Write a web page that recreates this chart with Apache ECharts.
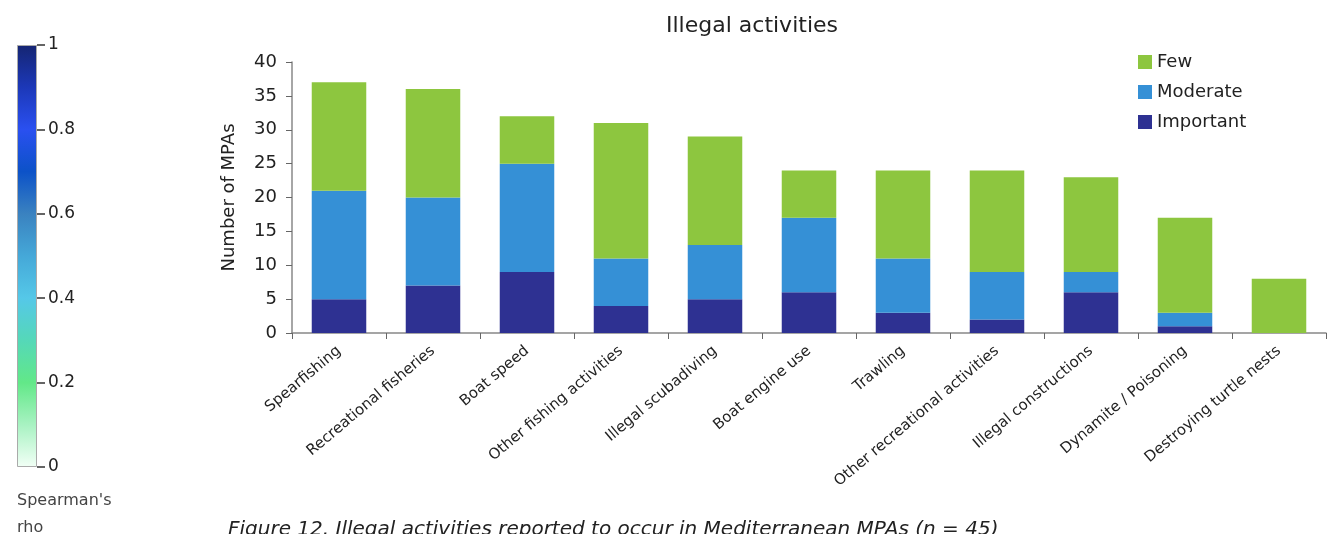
<!DOCTYPE html>
<html>
<head>
<meta charset="utf-8">
<script src="https://cdn.jsdelivr.net/npm/echarts@6/dist/echarts.min.js"></script>
<style>html,body{margin:0;padding:0;background:#fff}#c{width:1332px;height:534px}</style>
</head>
<body>
<div id="c"></div>
<script>
const categories = ['Spearfishing','Recreational fisheries','Boat speed','Other fishing activities','Illegal scubadiving','Boat engine use','Trawling','Other recreational activities','Illegal constructions','Dynamite / Poisoning','Destroying turtle nests'];
const important = [5, 7, 9, 4, 5, 6, 3, 2, 6, 1, 0];
const moderate  = [16, 13, 16, 7, 8, 11, 8, 7, 3, 2, 0];
const few       = [16, 16, 7, 20, 16, 7, 13, 15, 14, 14, 8];
const yTicks = [0, 5, 10, 15, 20, 25, 30, 35, 40];
const rhoTicks = [0, 0.2, 0.4, 0.6, 0.8, 1];
const rhoMax = [1];

const FONT = '"DejaVu Sans", "Liberation Sans", Arial, sans-serif';
const chart = echarts.init(document.getElementById('c'), null, {renderer:'canvas'});
chart.setOption({
  animation: false,
  textStyle: {fontFamily: FONT},
  title: [{
    text: 'Illegal activities', left: 747, top: 10, textAlign: 'center',
    textStyle: {fontSize: 22, fontWeight: 'normal', color: '#222', fontFamily: FONT}
  },{
    text: "Spearman's\nrho", left: 12, top: 482,
    textStyle: {fontSize: 16, fontWeight: 'normal', color: '#444', lineHeight: 27, fontFamily: FONT}
  },{
    text: 'Figure 12. Illegal activities reported to occur in Mediterranean MPAs (n = 45)', left: 223, top: 515,
    textStyle: {fontSize: 20, fontWeight: 'normal', fontStyle: 'italic', color: '#222', fontFamily: FONT}
  }],
  legend: {
    data: ['Few','Moderate','Important'], orient: 'vertical', left: 1133, top: 48,
    icon: 'rect', itemWidth: 14, itemHeight: 14, itemGap: 12,
    textStyle: {fontSize: 18, color: '#222', fontFamily: FONT}
  },
  grid: [
    {left: 292, right: 6, top: 62, bottom: 201, containLabel: false},
    {left: 17, width: 20, top: 45, bottom: 67, containLabel: false}
  ],
  xAxis: [{
    type: 'category', data: categories, gridIndex: 0,
    axisLine: {lineStyle: {color: '#888', width: 1.5}},
    axisTick: {show: true, alignWithLabel: false, length: 6, lineStyle: {color: '#666'}},
    axisLabel: {rotate: 40, fontSize: 15, color: '#222', margin: 16, interval: 0, fontFamily: FONT}
  },{
    type: 'category', data: ['rho'], gridIndex: 1, show: false
  }],
  yAxis: [{
    type: 'value', gridIndex: 0, min: 0, max: 40, interval: 5,
    name: 'Number of MPAs', nameLocation: 'middle', nameGap: 54, nameRotate: 90,
    nameTextStyle: {fontSize: 18, color: '#222', fontFamily: FONT},
    axisLine: {show: true, lineStyle: {color: '#888', width: 1.5}},
    axisTick: {show: true, length: 6, lineStyle: {color: '#666'}},
    axisLabel: {fontSize: 18, color: '#222', margin: 15, fontFamily: FONT},
    splitLine: {show: false}
  },{
    type: 'value', gridIndex: 1, min: 0, max: 1, interval: 0.2, position: 'right',
    axisLine: {show: false},
    axisTick: {show: true, inside: false, length: 8, lineStyle: {color: '#333', width: 1.5}},
    axisLabel: {fontSize: 17, color: '#222', margin: 11, fontFamily: FONT,
      formatter: v => (v === 0 || v === 1) ? String(v) : v.toFixed(1)},
    splitLine: {show: false}
  }],
  series: [
    {name: 'Important', type: 'bar', stack: 't', data: important, barCategoryGap: '42%', itemStyle: {color: '#2e3192'}},
    {name: 'Moderate', type: 'bar', stack: 't', data: moderate, itemStyle: {color: '#3590d6'}},
    {name: 'Few', type: 'bar', stack: 't', data: few, itemStyle: {color: '#8dc63f'}},
    {name: 'rho', type: 'bar', xAxisIndex: 1, yAxisIndex: 1, data: rhoMax, barWidth: '100%', silent: true,
      itemStyle: {borderColor: '#aaa', borderWidth: 1, color: {type: 'linear', x: 0, y: 0, x2: 0, y2: 1, colorStops: [
        {offset: 0, color: '#152572'},
        {offset: 0.1, color: '#1c38b8'},
        {offset: 0.2, color: '#2a50f0'},
        {offset: 0.3, color: '#0c52c8'},
        {offset: 0.4, color: '#3a82c0'},
        {offset: 0.5, color: '#45a8d8'},
        {offset: 0.6, color: '#55c8e8'},
        {offset: 0.7, color: '#55d8b8'},
        {offset: 0.8, color: '#62e888'},
        {offset: 0.9, color: '#a8f2c2'},
        {offset: 1, color: '#f2fff6'}
      ]}}}
  ]
});
</script>
</body>
</html>
